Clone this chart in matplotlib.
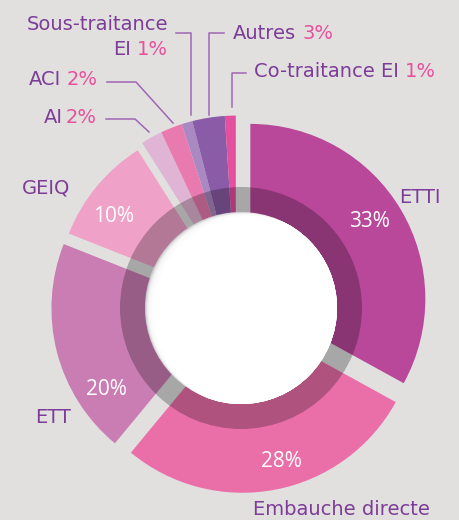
import numpy as np
import matplotlib
matplotlib.use('Agg')
import matplotlib.pyplot as plt
from matplotlib.patches import Wedge, Circle

# chart data
categories = ['ETTI', 'Embauche directe', 'ETT', 'GEIQ', 'AI', 'ACI',
              'Sous-traitance EI', 'Autres', 'Co-traitance EI']
shares = [33, 28, 20, 10, 2, 2, 1, 3, 1]
wedge_colors = ['#b9479a', '#ea6fa9', '#ca7db3', '#f0a1c8', '#dfb4d4',
                '#e97aaf', '#aa88c1', '#8a5ba6', '#e4509e']
# the small wedges are pulled out together as one block
groups = [0, 1, 2, 3, 4, 4, 4, 4, 4]
explode = [12, 13, 14, 11, 15]

BG = '#e1e0df'
PURPLE = '#7d3c98'
PINK = '#e8509c'
LINE = '#a066b4'

fig = plt.figure(figsize=(4.59, 5.2), dpi=100)
fig.patch.set_facecolor(BG)
ax = fig.add_axes([0, 0, 1, 1])
ax.set_xlim(0, 459)
ax.set_ylim(0, 520)
ax.axis('off')
ax.set_facecolor(BG)

cx, cy, R = 240, 215, 175          # pie centre / radius (pixels)
hx, hy = 241, 212                   # hole centre
r_hole, r_ring = 96, 121

# start at 12 o'clock, go clockwise
bounds = 90 - 3.6 * np.concatenate([[0], np.cumsum(shares)])
mids = {}
for g in set(groups):
    idx = [i for i, gg in enumerate(groups) if gg == g]
    mids[g] = (bounds[idx[0]] + bounds[idx[-1] + 1]) / 2

for i, share in enumerate(shares):
    a = np.deg2rad(mids[groups[i]])
    d = explode[groups[i]]
    ox, oy = cx + d * np.cos(a), cy + d * np.sin(a)
    ax.add_patch(Wedge((ox, oy), R, bounds[i + 1], bounds[i],
                       facecolor=wedge_colors[i], edgecolor='none'))

# dark translucent ring
ax.add_patch(Wedge((hx, hy), r_ring, 0, 360, width=r_ring - r_hole,
                   facecolor='black', alpha=0.25, edgecolor='none'))

# white hole with a soft inner shadow on the upper left
base = Circle((hx, hy), r_hole, facecolor='#c4c4c4', edgecolor='none')
ax.add_patch(base)
u = np.array([np.cos(np.deg2rad(-25)), np.sin(np.deg2rad(-25))])
for s in np.arange(0.7, 8.5, 0.7):
    c = Circle((hx + s * u[0], hy + s * u[1]), r_hole, facecolor='white',
               edgecolor='none', alpha=0.3)
    ax.add_patch(c)
    c.set_clip_path(base)
c = Circle((hx + 9 * u[0], hy + 9 * u[1]), r_hole, facecolor='white',
           edgecolor='none')
ax.add_patch(c)
c.set_clip_path(base)

# percentages inside the big wedges
pct_font = dict(color='white', fontsize=15, family='Open Sans',
                ha='center', va='baseline')
pct_pos = {0: (369.5, 293), 1: (281, 53), 2: (106, 125), 3: (114, 298)}
for i, (px, py) in pct_pos.items():
    ax.text(px, py, f'{shares[i]}%', **pct_font)

lab_font = dict(fontsize=14, family='DejaVu Sans', va='baseline')
ax.text(420, 317, categories[0], ha='center', color=PURPLE, **lab_font)
ax.text(341.5, 5, categories[1], ha='center', color=PURPLE, **lab_font)
ax.text(53, 97, categories[2], ha='center', color=PURPLE, **lab_font)
ax.text(46, 327, categories[3], ha='center', color=PURPLE, **lab_font)

renderer = fig.canvas.get_renderer()


def pieces(x, y, parts, align='left', gap=6):
    ts = [ax.text(0, y, s, color=col, **lab_font) for s, col in parts]
    ws = [t.get_window_extent(renderer).width for t in ts]
    total = sum(ws) + gap * (len(ts) - 1)
    x0 = x if align == 'left' else x - total
    for t, w in zip(ts, ws):
        t.set_x(x0)
        x0 += w + gap


ax.text(168, 490.5, 'Sous-traitance', ha='right', color=PURPLE, **lab_font)
pieces(168, 465, [('EI', PURPLE), (f'{shares[6]}%', PINK)], align='right')
pieces(98, 435, [(categories[5], PURPLE), (f'{shares[5]}%', PINK)], align='right')
pieces(97, 397, [(categories[4], PURPLE), (f'{shares[4]}%', PINK)], align='right', gap=3)
pieces(233, 481, [(categories[7], PURPLE), (f'{shares[7]}%', PINK)])
pieces(254, 443, [(categories[8], PURPLE), (f'{shares[8]}%', PINK)])

# leader lines
leaders = [
    [(106, 401), (135, 401), (149, 388)],
    [(107, 438), (136, 438), (173, 397)],
    [(176, 487), (191, 487), (191, 405)],
    [(224, 487), (209, 487), (209, 405)],
    [(246, 447), (232, 447), (232, 413)],
]
for pts in leaders:
    xs, ys = zip(*pts)
    ax.plot(xs, ys, color=LINE, lw=1.1, zorder=0.5)

fig.savefig('out.png', dpi=100, facecolor=BG)
